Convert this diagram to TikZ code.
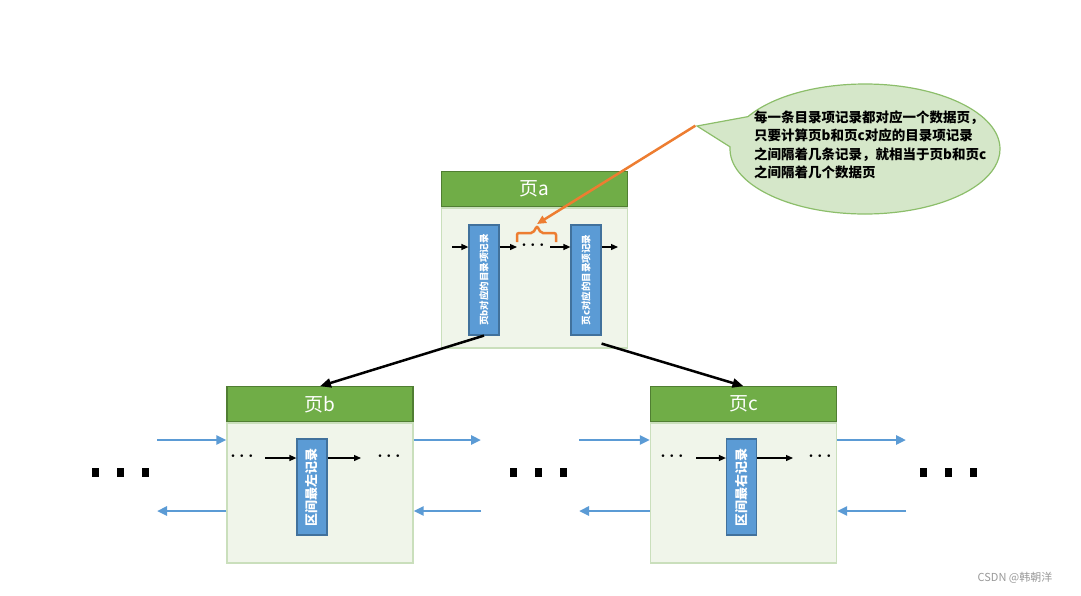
\documentclass[tikz,border=0pt]{standalone}
\usepackage{fontspec}
\newfontfamily\cjk{Noto Sans CJK SC}
\usetikzlibrary{arrows.meta,shapes.callouts}

\definecolor{hdgreen}{HTML}{70AD47}
\definecolor{hdline}{HTML}{507E32}
\definecolor{bdgreen}{HTML}{F0F5EA}
\definecolor{bdline}{HTML}{CADFBC}
\definecolor{recblue}{HTML}{5B9BD5}
\definecolor{recline}{HTML}{41719C}
\definecolor{linkorange}{HTML}{ED7D31}
\definecolor{notegreen}{HTML}{D5E7C9}
\definecolor{noteline}{HTML}{8CBE6A}

\tikzset{
  pagehead/.style={draw=hdline, fill=hdgreen, line width=1.2pt, minimum width=186pt,
    minimum height=35pt, inner sep=0pt, text=white, font=\cjk\fontsize{19}{19}\selectfont},
  pagebody/.style={draw=bdline, fill=bdgreen, line width=1.2pt, minimum width=186pt,
    minimum height=140pt, inner sep=0pt},
  dirrec/.style={draw=recline, fill=recblue, line width=1.2pt, minimum width=30pt,
    minimum height=110pt, inner sep=0pt, text=white, font=\cjk\bfseries\fontsize{9.5}{9.5}\selectfont},
  siderec/.style={dirrec, minimum height=96pt, font=\cjk\bfseries\fontsize{13}{13}\selectfont},
  nextarrow/.style={-{Triangle[length=7pt,width=6pt]}, line width=1.3pt},
  treearrow/.style={-{Triangle[length=11pt,width=9pt]}, line width=2.5pt},
  linkblue/.style={-{Triangle[length=10pt,width=9pt]}, draw=recblue, line width=2.6pt},
  moredots/.style={inner sep=0pt, font=\boldmath\fontsize{16}{16}\selectfont}
}

\begin{document}
\begin{tikzpicture}[x=1pt,y=-1pt]
  \useasboundingbox (0,0) rectangle (1081,595);

  % pages
  \node[pagebody] (pabody) at (534.5,278) {};
  \node[pagehead, anchor=south] (pahead) at (pabody.north) {页a};
  \node[pagebody] (pbbody) at (320,493) {};
  \node[pagehead, anchor=south] (pbhead) at (pbbody.north) {页b};
  \node[pagebody] (pcbody) at (743.5,493) {};
  \node[pagehead, anchor=south] (pchead) at (pcbody.north) {页c};

  % records of page a
  \node[dirrec] (ra1) at (484,280) {\rotatebox{90}{页b对应的目录项记录}};
  \node[dirrec] (ra2) at (586,280) {\rotatebox{90}{页c对应的目录项记录}};
  \coordinate (ain) at (452,247);
  \coordinate (aone) at (517,247);
  \coordinate (atwo) at (550,247);
  \coordinate (aout) at (618,247);
  \node[moredots] (adots) at (533,245) {$\cdots$};
  \draw[nextarrow] (ain) -- (ain -| ra1.west);
  \draw[nextarrow] (ra1.east |- aone) -- (aone);
  \draw[nextarrow] (atwo) -- (atwo -| ra2.west);
  \draw[nextarrow] (ra2.east |- aout) -- (aout);

  % records of pages b and c
  \node[siderec] (rb) at (312,487) {\rotatebox{90}{区间最左记录}};
  \node[siderec] (rc) at (741.5,487) {\rotatebox{90}{区间最右记录}};
  \coordinate (bin) at (265,458);
  \coordinate (bout) at (361,458);
  \coordinate (cin) at (696,458);
  \coordinate (cout) at (793,458);
  \node[moredots] (bdl) at (242,456) {$\cdots$};
  \node[moredots] (bdr) at (389,456) {$\cdots$};
  \node[moredots] (cdl) at (672,456) {$\cdots$};
  \node[moredots] (cdr) at (820,456) {$\cdots$};
  \draw[nextarrow] (bin) -- (bin -| rb.west);
  \draw[nextarrow] (rb.east |- bout) -- (bout);
  \draw[nextarrow] (cin) -- (cin -| rc.west);
  \draw[nextarrow] (rc.east |- cout) -- (cout);

  % tree
  \draw[treearrow] (ra1.south) -- (pbhead.north);
  \draw[treearrow] ([yshift=-8pt]ra2.south east) -- (pchead.north);

  % sibling links
  \coordinate (bl1) at (157,440);
  \coordinate (bl2) at (157,511);
  \coordinate (br1) at (481,440);
  \coordinate (br2) at (481,511);
  \coordinate (cl1) at (579,440);
  \coordinate (cl2) at (579,511);
  \coordinate (cr1) at (906,440);
  \coordinate (cr2) at (906,511);
  \draw[linkblue] (bl1) -- (bl1 -| pbbody.west);
  \draw[linkblue] (bl2 -| pbbody.west) -- (bl2);
  \draw[linkblue] (br1 -| pbbody.east) -- (br1);
  \draw[linkblue] (br2) -- (br2 -| pbbody.east);
  \draw[linkblue] (cl1) -- (cl1 -| pcbody.west);
  \draw[linkblue] (cl2 -| pcbody.west) -- (cl2);
  \draw[linkblue] (cr1 -| pcbody.east) -- (cr1);
  \draw[linkblue] (cr2) -- (cr2 -| pcbody.east);

  % more pages
  \foreach \x in {95,120,145,513,538,563,923,948,973}
    \fill (\x-3.5,468) rectangle (\x+3.5,477);

  % note
  \node[ellipse callout, draw=noteline, fill=notegreen, line width=1.2pt,
    minimum width=270pt, minimum height=130pt, callout pointer arc=28,
    callout absolute pointer={(697,126)}] (note) at (865,149) {};
  \node[anchor=west, align=left, inner sep=0pt,
    font=\cjk\bfseries\fontsize{13.5}{18.5}\selectfont] (notetext) at (754,145)
    {每一条目录项记录都对应一个数据页，\\只要计算页b和页c对应的目录项记录\\之间隔着几条记录，就相当于页b和页c\\之间隔着几个数据页};
  \coordinate (brtip) at (537,224);
  \draw[linkorange, line width=2.5pt, rounded corners=2pt]
    (517,242) -- (517,233) -- (533,233) -- (537,226) -- (541,233) -- (556,233) -- (556,242);
  \draw[linkorange, line width=2.5pt, -{Triangle[length=9pt,width=8pt]}] (note.pointer) -- (brtip);

  \node[text=black!40, font=\cjk\fontsize{11}{11}\selectfont] (mark) at (1015,578) {CSDN @韩朝洋};
\end{tikzpicture}
\end{document}
